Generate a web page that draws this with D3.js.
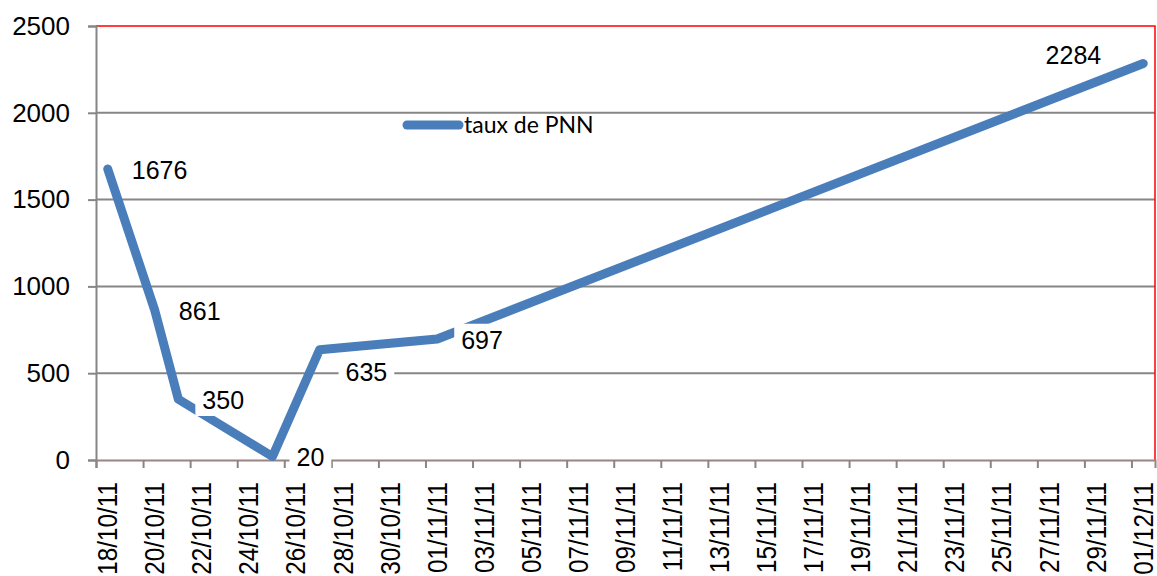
<!DOCTYPE html>
<html>
<head>
<meta charset="utf-8">
<script src="https://cdn.jsdelivr.net/npm/d3@7"></script>
<style>
  body { margin: 0; background: #fff; }
  svg { display: block; font-family: "Liberation Sans", Arial, sans-serif; }
</style>
</head>
<body>
<div id="chart"></div>
<script>
// data
const dates = ["2011-10-18", "2011-10-20", "2011-10-21", "2011-10-25", "2011-10-27", "2011-11-01", "2011-12-01"];
const values = [1676, 861, 350, 20, 635, 697, 2284];
const seriesName = "taux de PNN";
const yTicks = [0, 500, 1000, 1500, 2000, 2500];
const axisStart = "2011-10-18";
const axisEnd = "2011-12-02";
// where each data label sits relative to its point
const labelPlace = ["right", "right", "right", "right", "belowRight", "right", "aboveLeft"];

const W = 1157, H = 576;
const margin = { top: 26, right: 2, bottom: 116, left: 96 };
const width = W - margin.left - margin.right,
    height = H - margin.top - margin.bottom;

const parse = d3.utcParse("%Y-%m-%d");
const fmt = d3.utcFormat("%d/%m/%y");
const blue = "#4a7ebb";
const grey = "#868686";

const svg = d3.select("#chart")
    .append("svg")
    .attr("width", W)
    .attr("height", H)
    .append("g")
    .attr("transform", `translate(${margin.left},${margin.top})`);

const x = d3.scaleUtc()
    .domain([parse(axisStart), parse(axisEnd)])
    .range([0, width]);
const dayW = x(d3.utcDay.offset(parse(axisStart), 1)) - x(parse(axisStart));
const xc = d => x(d) + dayW / 2; // points sit in the middle of the day

const y = d3.scaleLinear()
    .domain([0, 2500])
    .range([height, 0]);

const data = dates.map((d, i) => ({ date: parse(d), value: values[i] }));

// gridlines
svg.append("g")
    .selectAll("line")
    .data(yTicks.slice(1, -1))
    .enter()
    .append("line")
    .attr("x1", 0).attr("x2", width)
    .attr("y1", d => y(d)).attr("y2", d => y(d))
    .attr("stroke", grey)
    .attr("stroke-width", 2);

// red plot border (top and right)
svg.append("path")
    .attr("d", `M0,${y(2500)}H${width}V${height}`)
    .attr("fill", "none")
    .attr("stroke", "#ff0000")
    .attr("stroke-width", 1.5);

// y axis
const yAxis = svg.append("g")
    .call(d3.axisLeft(y).tickValues(yTicks).tickSize(8).tickPadding(18).tickFormat(d3.format("d")));
yAxis.select(".domain").attr("stroke", grey).attr("stroke-width", 2);
yAxis.selectAll(".tick line").attr("stroke", grey).attr("stroke-width", 2);
yAxis.selectAll(".tick text")
    .attr("font-size", 26)
    .attr("font-family", "Liberation Sans, Arial, sans-serif")
    .attr("fill", "#000");

// x axis
const xTicks = d3.utcDay.range(parse(axisStart), parse(axisEnd), 2);
const xAxis = svg.append("g")
    .attr("transform", `translate(0,${height})`)
    .call(d3.axisBottom(x).tickValues(xTicks).tickSize(8).tickFormat(""));
xAxis.select(".domain").attr("stroke", "#9a8484").attr("stroke-width", 2);
xAxis.selectAll(".tick line").attr("stroke", grey).attr("stroke-width", 2);

// rotated date labels, a bit condensed along the text like the original
svg.append("g")
    .selectAll("text")
    .data(xTicks)
    .enter()
    .append("text")
    .attr("transform", d => `translate(${xc(d)},${height + 22}) rotate(-90) scale(0.9,1)`)
    .attr("text-anchor", "end")
    .attr("dy", "0.35em")
    .attr("font-size", 27)
    .text(d => fmt(d));

// the series line
const line = d3.line()
    .x(d => xc(d.date))
    .y(d => y(d.value));

svg.append("path")
    .datum(data)
    .attr("d", line)
    .attr("fill", "none")
    .attr("stroke", blue)
    .attr("stroke-width", 9)
    .attr("stroke-linecap", "round")
    .attr("stroke-linejoin", "round");

// data labels with white boxes
const labels = svg.append("g")
    .selectAll("g")
    .data(data)
    .enter()
    .append("g");

labels.each(function(d, i) {
    const g = d3.select(this);
    const px = xc(d.date), py = y(d.value);
    const t = g.append("text")
        .attr("font-size", 25)
        .attr("dy", "0.35em")
        .text(d.value);
    if (labelPlace[i] == "right") {
        t.attr("x", px + 24).attr("y", py + 1);
    } else if (labelPlace[i] == "belowRight") {
        t.attr("x", px + 26).attr("y", py + 22);
    } else {
        t.attr("x", px - 42).attr("y", py - 8).attr("text-anchor", "end");
    }
    const bb = t.node().getBBox();
    g.insert("rect", "text")
        .attr("x", bb.x - 7)
        .attr("y", bb.y - 2)
        .attr("width", bb.width + 14)
        .attr("height", bb.height + 4)
        .attr("fill", "#fff");
});

// legend
const legend = svg.append("g")
    .attr("transform", `translate(${403 - margin.left},${125 - margin.top})`);
legend.append("line")
    .attr("x1", 4).attr("x2", 56)
    .attr("stroke", blue)
    .attr("stroke-width", 9)
    .attr("stroke-linecap", "round");
legend.append("text")
    .attr("x", 61)
    .attr("dy", "0.35em")
    .attr("font-family", "Lato, 'Open Sans', sans-serif")
    .attr("font-size", 23)
    .text(seriesName);
</script>
</body>
</html>
